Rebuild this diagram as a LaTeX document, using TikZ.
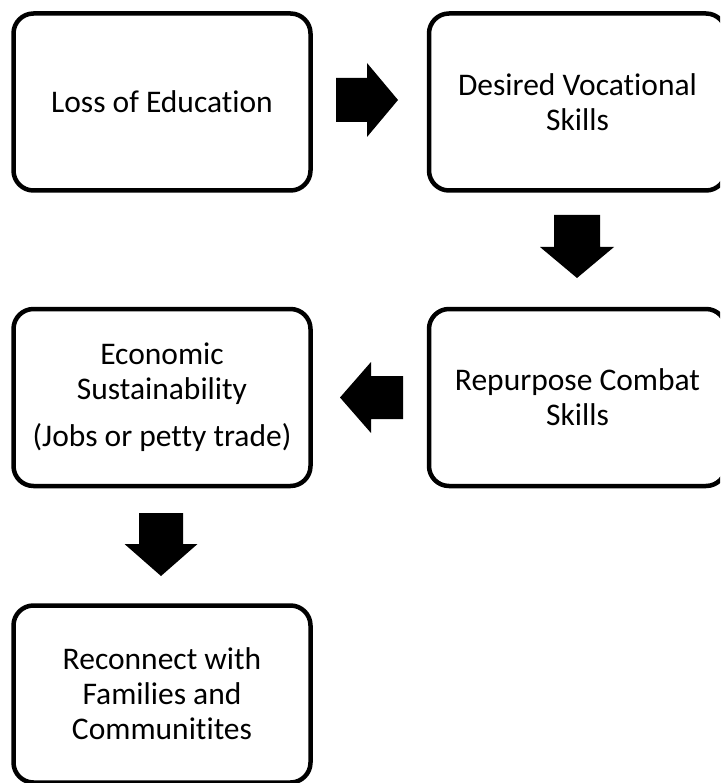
\documentclass[tikz,border=0pt]{standalone}
\usepackage{fontspec}
\setmainfont{Carlito}[Ligatures = NoCommon]

\begin{document}
\begin{tikzpicture}[x = 1pt, y = -1pt]
\tikzstyle{stageStyle}=[shape = rectangle, rounded corners = 20pt, line width = 4.5pt, draw, minimum width = 297pt, minimum height = 177pt, align = center, font = \fontsize{31.5}{35}\selectfont]
\tikzstyle{blockArrowStyle}=[fill = black, draw = none]
\path[use as bounding box, clip] (0,0) rectangle (720,783);
\node[stageStyle] (loss) at (162, 102) {Loss of Education};
\node[stageStyle] (desired) at (577.5, 102) {Desired Vocational\\Skills};
\node[stageStyle] (repurpose) at (577.5, 397.5) {Repurpose Combat\\Skills};
\node[stageStyle] (economic) at (162, 397.5) {Economic\\Sustainability\\[12pt](Jobs or petty trade)};
\node[stageStyle] (reconnect) at (162, 694) {Reconnect with\\Families and\\Communitites};
\coordinate (lossToDesired) at (336, 78);
\coordinate (desiredToRepurpose) at (554, 215);
\coordinate (repurposeToEconomic) at (403, 376);
\coordinate (economicToReconnect) at (139, 513);
\path[blockArrowStyle] (lossToDesired) -- ++(31,0) -- ++(0,-15) -- ++(31,37) -- ++(-31,37) -- ++(0,-15) -- ++(-31,0) -- cycle;
\path[blockArrowStyle] (desiredToRepurpose) -- ++(46,0) -- ++(0,32) -- ++(14,0) -- ++(-37,31) -- ++(-37,-31) -- ++(14,0) -- cycle;
\path[blockArrowStyle] (repurposeToEconomic) -- ++(-32,0) -- ++(0,-14) -- ++(-31,35.5) -- ++(31,35.5) -- ++(0,-14) -- ++(32,0) -- cycle;
\path[blockArrowStyle] (economicToReconnect) -- ++(44,0) -- ++(0,31) -- ++(14.5,0) -- ++(-36.5,32) -- ++(-36.5,-32) -- ++(14.5,0) -- cycle;
\end{tikzpicture}
\end{document}
